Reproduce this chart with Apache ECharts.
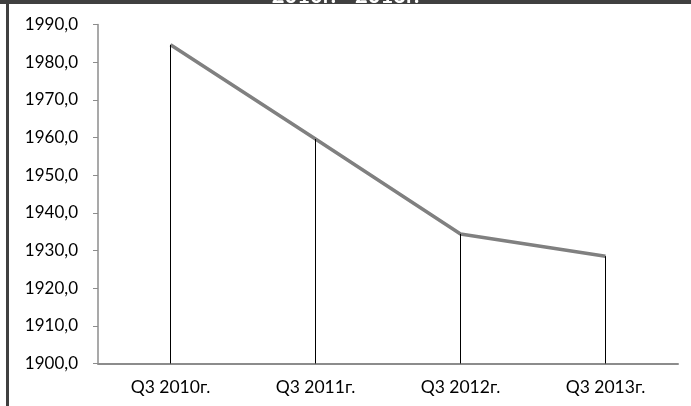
<!DOCTYPE html>
<html>
<head>
<meta charset="utf-8">
<script src="https://cdn.jsdelivr.net/npm/echarts@6/dist/echarts.min.js"></script>
<style>
  html, body { margin: 0; padding: 0; background: #fff; }
  #chart { width: 691px; height: 406px; }
</style>
</head>
<body>
<div id="chart"></div>
<script>
let categories = ['Q3 2010г.', 'Q3 2011г.', 'Q3 2012г.', 'Q3 2013г.'];
let values = [1984.6, 1959.6, 1934.4, 1928.5];
let yMin = 1900;
let yMax = 1990;
let yStep = 10;
let titleText = '2010г. - 2013г.';

// vertical drop lines from each point down to the axis
let dropLines = categories.map((c, i) => [
    { coord: [c, values[i]] },
    { coord: [c, yMin] }
]);

let option = {
    animation: false,
    backgroundColor: '#fff',
    textStyle: { fontFamily: 'Lato' },
    title: {
        text: titleText,
        left: 'center',
        top: -20,
        textStyle: { color: '#fff', fontSize: 22, fontWeight: 'bold', fontFamily: 'Lato' }
    },
    graphic: [
        { type: 'rect', z: -1, shape: { x: 0, y: 0, width: 691, height: 4 }, style: { fill: '#404040' } },
        { type: 'rect', shape: { x: 6, y: 0, width: 3, height: 406 }, style: { fill: '#404040' } }
    ],
    grid: {
        left: 98,
        right: 13,
        top: 24.5,
        bottom: 42.5
    },
    xAxis: {
        type: 'category',
        data: categories,
        boundaryGap: true,
        axisLine: { lineStyle: { color: '#8c8c8c', width: 2 } },
        axisTick: { show: false },
        axisLabel: { color: '#000', fontSize: 17.5, margin: 15 }
    },
    yAxis: {
        type: 'value',
        min: yMin,
        max: yMax,
        interval: yStep,
        axisLine: { show: true, lineStyle: { color: '#8c8c8c', width: 1.5 } },
        axisTick: { show: true, length: 5, lineStyle: { color: '#8c8c8c' } },
        splitLine: { show: false },
        axisLabel: {
            color: '#000',
            fontSize: 17,
            margin: 20,
            formatter: v => v.toFixed(1).replace('.', ',')
        }
    },
    series: [
        {
            type: 'line',
            data: values,
            symbol: 'none',
            lineStyle: { color: '#808080', width: 3.5 },
            markLine: {
                silent: true,
                symbol: 'none',
                label: { show: false },
                lineStyle: { color: '#000', width: 1, type: 'solid' },
                data: dropLines
            },
            z: 3
        }
    ]
};

let chart = echarts.init(document.getElementById('chart'));
chart.setOption(option);
</script>
</body>
</html>
